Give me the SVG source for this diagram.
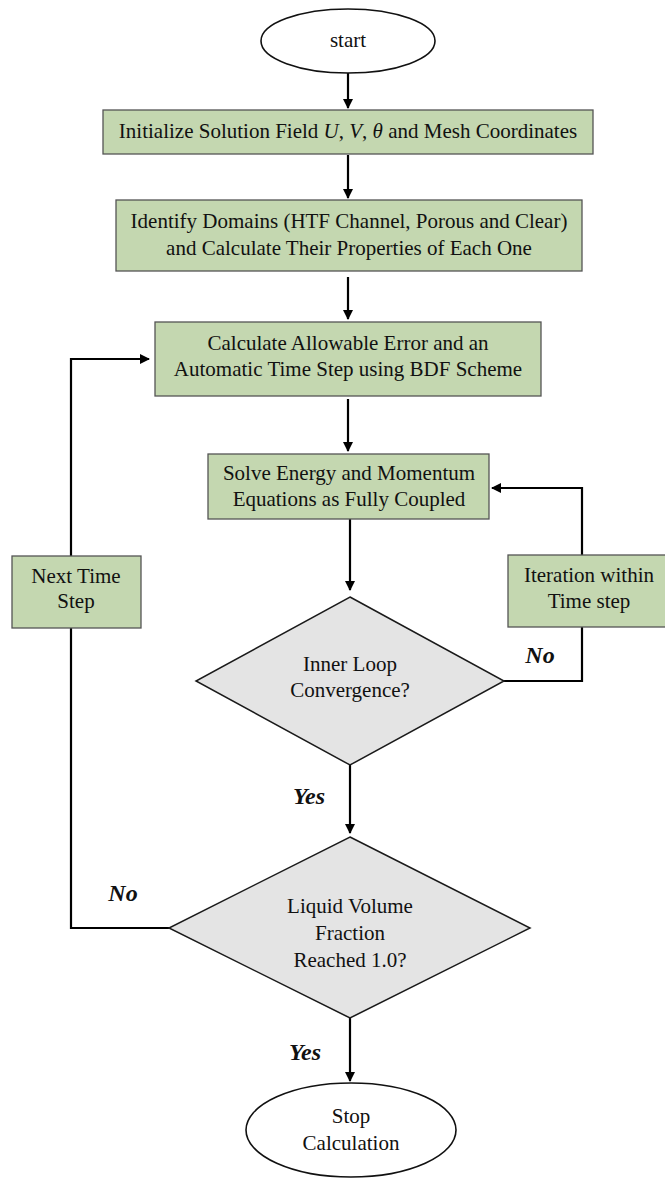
<svg xmlns="http://www.w3.org/2000/svg" width="665" height="1178" viewBox="0 0 665 1178">
<defs>
<style>
text{font-family:"Liberation Serif","Times New Roman",serif;font-size:21px;fill:#111;text-anchor:middle}
.box{fill:#c4d7b0;stroke:#555;stroke-width:1.3}
.dia{fill:#e4e4e4;stroke:#1a1a1a;stroke-width:1.5}
.ell{fill:#fff;stroke:#111;stroke-width:1.6}
.lab{font-weight:bold;font-style:italic;font-size:24px}
.con{fill:none;stroke:#000;stroke-width:2.2}
.arr{marker-end:url(#ah)}
</style>
<marker id="ah" viewBox="0 0 10 10" refX="9" refY="5" markerWidth="11" markerHeight="10" markerUnits="userSpaceOnUse" orient="auto">
<path d="M0,0 L10,5 L0,10 z" fill="#000"/>
</marker>
</defs>
<g id="connectors">
<line class="con arr" x1="348" y1="73" x2="348" y2="108"/>
<line class="con arr" x1="348" y1="155" x2="348" y2="198"/>
<line class="con arr" x1="348" y1="277" x2="348" y2="319"/>
<line class="con arr" x1="348" y1="399" x2="348" y2="451"/>
<line class="con arr" x1="350" y1="519" x2="350" y2="590"/>
<polyline class="con arr" points="504,681 582,681 582,488 492,488"/>
<line class="con arr" x1="350" y1="765" x2="350" y2="833"/>
<polyline class="con arr" points="169,928 71,928 71,359 149,359"/>
<line class="con arr" x1="350" y1="1018" x2="350" y2="1081"/>
</g>
<g id="start">
<ellipse class="ell" cx="348" cy="41" rx="87" ry="32"/>
<text x="348" y="47">start</text>
</g>
<g id="init">
<rect class="box" x="103" y="110" width="490" height="44"/>
<text x="348" y="138">Initialize Solution Field <tspan font-style="italic">U</tspan>, <tspan font-style="italic">V</tspan>, <tspan font-style="italic">θ</tspan> and Mesh Coordinates</text>
</g>
<g id="identify">
<rect class="box" x="116" y="200" width="466" height="71"/>
<text x="349" y="228">Identify Domains (HTF Channel, Porous and Clear)</text>
<text x="349" y="255">and Calculate Their Properties of Each One</text>
</g>
<g id="calc">
<rect class="box" x="155" y="322" width="386" height="74"/>
<text x="348" y="350">Calculate Allowable Error and an</text>
<text x="348" y="376">Automatic Time Step using BDF Scheme</text>
</g>
<g id="solve">
<rect class="box" x="208" y="454" width="281" height="65"/>
<text x="349" y="480">Solve Energy and Momentum</text>
<text x="349" y="506">Equations as Fully Coupled</text>
</g>
<g id="iteration">
<rect class="box" x="508" y="555" width="162" height="72"/>
<text x="589" y="582">Iteration within</text>
<text x="589" y="608">Time step</text>
</g>
<g id="nextstep">
<rect class="box" x="12" y="556" width="129" height="72"/>
<text x="76" y="583">Next Time</text>
<text x="76" y="608">Step</text>
</g>
<g id="inner">
<polygon class="dia" points="350,597 504,681 350,765 196,681"/>
<text x="350" y="671">Inner Loop</text>
<text x="350" y="697">Convergence?</text>
</g>
<g id="liquid">
<polygon class="dia" points="350,837 530,928 350,1018 169,928"/>
<text x="350" y="913">Liquid Volume</text>
<text x="350" y="940">Fraction</text>
<text x="350" y="967">Reached 1.0?</text>
</g>
<g id="stop">
<ellipse class="ell" cx="351" cy="1130" rx="105" ry="47"/>
<text x="351" y="1123">Stop</text>
<text x="351" y="1150">Calculation</text>
</g>
<g id="labels">
<text class="lab" x="540" y="663">No</text>
<text class="lab" x="309" y="804">Yes</text>
<text class="lab" x="123" y="901">No</text>
<text class="lab" x="305" y="1060">Yes</text>
</g>
</svg>
